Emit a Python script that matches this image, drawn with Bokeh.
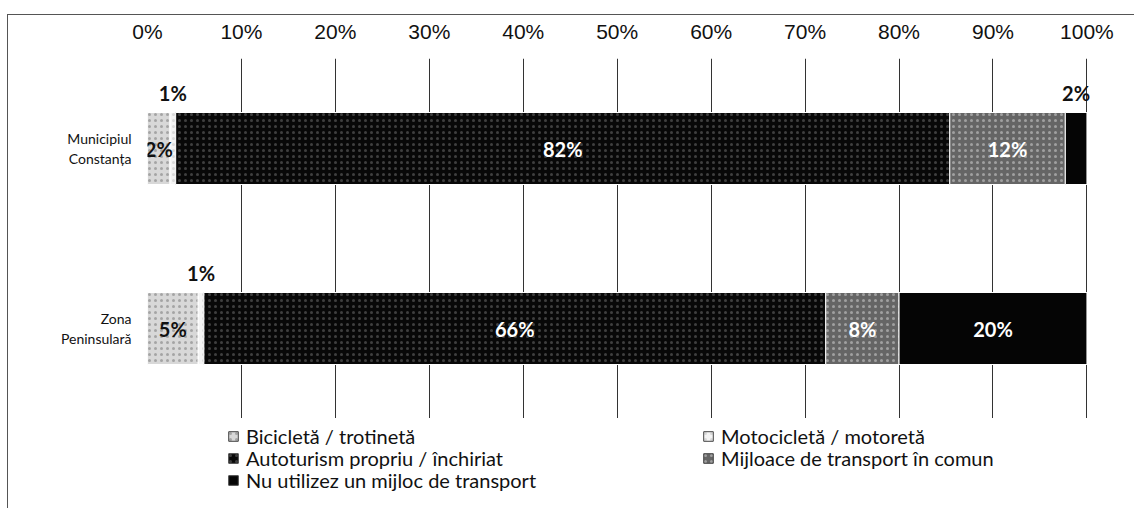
import numpy as np
from bokeh.plotting import figure
from bokeh.layouts import column
from bokeh.models import ColumnDataSource, FactorRange, Range1d, FixedTicker, Legend, LegendItem
from bokeh.core.properties import value
from bokeh.embed import file_html
from bokeh.resources import INLINE

# ---- data ----
categories = ["Municipiul\nConstanța", "Zona\nPeninsulară"]
series_names = [
    "Bicicletă / trotinetă",
    "Motocicletă / motoretă",
    "Autoturism propriu / închiriat",
    "Mijloace de transport în comun",
    "Nu utilizez un mijloc de transport",
]
bicicleta = [2.4, 5.4]
motocicleta = [0.6, 0.6]
autoturism = [82.4, 66.2]
transport_comun = [12.3, 7.8]
nu_utilizez = [2.3, 20.0]
tick_values = [0, 10, 20, 30, 40, 50, 60, 70, 80, 90, 100]
tick_labels = ["0%", "10%", "20%", "30%", "40%", "50%", "60%", "70%", "80%", "90%", "100%"]

all_values = [bicicleta, motocicleta, autoturism, transport_comun, nu_utilizez]

# ---- styles ----
fill_colors = ["#d8d8d8", "#f4f4f4", "#080808", "#656565", "#050505"]
hatch_patterns = ["dot", "dot", "dot", "dot", None]
hatch_colors = ["#7a7a7a", "#b0b0b0", "#bdbdbd", "#d0d0d0", None]
hatch_alphas = [0.55, 0.4, 0.3, 0.55, 0]
inside_text_colors = ["#111111", "#111111", "white", "white", "white"]
min_inside = [0, 99, 0, 0, 3]   # label goes above the bar when the share is smaller
# legend slot (column x, row y) in the strip below, screen px
legend_slots = [(80, 60), (555, 60), (80, 38), (555, 38), (80, 16)]

p = figure(
    width=1126, height=403,
    y_range=FactorRange(factors=categories[::-1]),
    x_range=Range1d(0, 104),
    x_axis_location="above",
    output_backend="svg", toolbar_location=None,
    min_border_left=139, min_border_right=10,
    min_border_top=43, min_border_bottom=0,
)
p.outline_line_color = None
p.background_fill_color = "white"

p.xgrid.ticker = FixedTicker(ticks=tick_values)
p.xgrid.grid_line_color = "#333333"
p.xgrid.grid_line_width = 1
p.ygrid.visible = False

xa = p.xaxis[0]
xa.ticker = FixedTicker(ticks=tick_values)
xa.major_label_overrides = dict(zip(tick_values, tick_labels))
xa.axis_line_color = None
xa.major_tick_line_color = None
xa.minor_tick_line_color = None
xa.major_tick_out = 0
xa.major_tick_in = 0
xa.major_label_standoff = 16
xa.major_label_text_font = "Liberation Sans"
xa.major_label_text_font_size = "21px"
xa.major_label_text_color = "#111111"

ya = p.yaxis[0]
ya.axis_line_color = None
ya.major_tick_line_color = None
ya.minor_tick_line_color = None
ya.major_tick_out = 0
ya.major_tick_in = 0
ya.major_label_standoff = 16
ya.major_label_text_font = "Lato"
ya.major_label_text_font_size = "14px"
ya.major_label_text_color = "#111111"

# legend strip below the chart
p2 = figure(
    width=1126, height=90,
    x_range=Range1d(0, 1), y_range=Range1d(0, 1),
    output_backend="svg", toolbar_location=None,
    min_border=0,
)
p2.axis.visible = False
p2.grid.visible = False
p2.outline_line_color = None

renderers = []
left = np.zeros(len(categories))
label_in = dict(x=[], cat=[], txt=[], col=[])
label_up = dict(x=[], cat=[], txt=[])
for name, vals, fc, hp, hc, ha, tc, mi in zip(series_names, all_values, fill_colors,
                                              hatch_patterns, hatch_colors, hatch_alphas,
                                              inside_text_colors, min_inside):
    v = np.array(vals, dtype=float)
    right = left + v
    src = ColumnDataSource(dict(cat=categories, left=left, right=right))
    kw = dict(fill_color=fc, line_color="white", line_width=1)
    if hp:
        kw.update(hatch_pattern=hp, hatch_color=hc, hatch_scale=6, hatch_weight=1.2, hatch_alpha=ha)
    p.hbar(y="cat", left="left", right="right", height=0.4, source=src, **kw)
    lkw = dict(kw)
    lkw["line_color"] = "#444444"
    # legend proxy: one row with no position, so nothing is drawn in the strip itself
    proxy = ColumnDataSource(dict(y=np.array([np.nan]), left=np.array([np.nan]),
                                  right=np.array([np.nan])))
    r2 = p2.hbar(y="y", left="left", right="right", height=0.1, source=proxy, **lkw)
    renderers.append(r2)
    for c, l, vv in zip(categories, left, v):
        mid = l + vv / 2
        txt = f"{int(round(vv))}%"
        if vv < mi:
            label_up["x"].append(mid); label_up["cat"].append(c); label_up["txt"].append(txt)
        else:
            label_in["x"].append(mid); label_in["cat"].append(c); label_in["txt"].append(txt)
            label_in["col"].append(tc)
    left = right

p.text(x="x", y="cat", text="txt", text_color="col", source=ColumnDataSource(label_in),
       text_align="center", text_baseline="middle", text_font=value("Lato"),
       text_font_size="20px", text_font_style="bold")
p.text(x="x", y="cat", text="txt", text_color="#111111", source=ColumnDataSource(label_up),
       text_align="center", text_baseline="middle", text_font=value("Lato"),
       text_font_size="20px", text_font_style="bold", y_offset=-56)


def make_legend(i, loc):
    lg = Legend(items=[LegendItem(label=series_names[i], renderers=[renderers[i]])],
                location=loc, orientation="vertical")
    lg.glyph_width = 12
    lg.glyph_height = 12
    lg.label_standoff = 7
    lg.label_text_font = "Lato"
    lg.label_text_font_size = "20px"
    lg.label_text_color = "#111111"
    lg.label_height = 22
    lg.spacing = 0
    lg.padding = 0
    lg.margin = 0
    lg.border_line_color = None
    lg.background_fill_alpha = 0
    return lg


for i, slot in enumerate(legend_slots):
    p2.add_layout(make_legend(i, slot), "center")

layout = column(p, p2, spacing=0)
layout.styles = {"position": "relative", "left": "7px", "top": "14px",
                 "border-top": "1px solid #555", "border-left": "1px solid #555"}

open("out.html", "w").write(file_html(layout, INLINE))
